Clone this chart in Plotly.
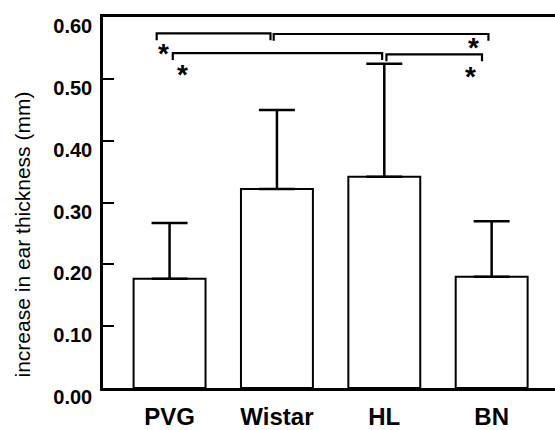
import plotly.graph_objects as go

# Ear swelling by rat strain: mean increase with upper SEM bars
strains = ["PVG", "Wistar", "HL", "BN"]
mean_increase = [0.177, 0.322, 0.342, 0.180]
sem = [0.090, 0.128, 0.183, 0.090]

y_ticks = [0.0, 0.1, 0.2, 0.3, 0.4, 0.5, 0.6]

# Significance brackets: (left end, right end, level) in axis units
brackets = [
    (-0.12, 0.94, 0.574),
    (0.97, 2.97, 0.573),
    (0.03, 1.98, 0.542),
    (2.02, 2.91, 0.540),
]
bracket_drop = 0.011

# Asterisks marking significant pairs
star_x = [-0.06, 0.12, 2.83, 2.80]
star_y = [0.545, 0.510, 0.555, 0.508]

fig = go.Figure()

fig.add_trace(go.Bar(
    x=list(range(len(strains))),
    y=mean_increase,
    width=0.67,
    marker=dict(color="white", line=dict(color="black", width=2)),
    error_y=dict(type="data", array=sem, arrayminus=[0] * len(sem),
                 symmetric=False, color="black", thickness=2.5, width=18),
    showlegend=False,
    hoverinfo="skip",
))

for x0, x1, lvl in brackets:
    fig.add_shape(
        type="path",
        path=f"M {x0},{lvl - bracket_drop} L {x0},{lvl} L {x1},{lvl} L {x1},{lvl - bracket_drop}",
        line=dict(color="black", width=2.2),
        xref="x", yref="y",
    )

annotations = [dict(
    text="increase in ear thickness (mm)",
    xref="paper", yref="paper", x=0, y=0.5,
    xanchor="center", yanchor="middle",
    xshift=-81, yshift=-32,
    textangle=-90, showarrow=False,
    font=dict(family="Liberation Sans", size=21, color="black"),
)]
# the asterisk glyph sits high in its line box, so nudge it down
for sx, sy in zip(star_x, star_y):
    annotations.append(dict(
        text="*", x=sx, y=sy, xref="x", yref="y",
        xanchor="center", yanchor="middle", yshift=-2,
        showarrow=False,
        font=dict(family="Liberation Sans", size=28, color="black", weight="bold"),
    ))

fig.update_layout(
    width=555, height=430,
    margin=dict(l=103, r=0, t=17, b=37),
    plot_bgcolor="white", paper_bgcolor="white",
    xaxis=dict(
        range=[-0.62, 3.59],
        tickmode="array",
        tickvals=list(range(len(strains))),
        ticktext=strains,
        showline=True, mirror=True, linecolor="black", linewidth=2.5,
        ticks="", showgrid=False, zeroline=False,
        tickfont=dict(family="Liberation Sans", size=24, color="black", weight="bold"),
        ticklabelstandoff=5,
    ),
    yaxis=dict(
        range=[0, 0.6005],
        tickmode="array",
        tickvals=y_ticks,
        ticktext=[f"{v:.2f}" for v in y_ticks],
        showline=True, linecolor="black", linewidth=2.5,
        ticks="inside", ticklen=11, tickwidth=2, tickcolor="black",
        showgrid=False, zeroline=False,
        tickfont=dict(family="Liberation Sans", size=20, color="black", weight="bold"),
        ticklabelshift=9,
        ticklabelstandoff=4,
        ticklabeloverflow="allow",
    ),
    annotations=annotations,
)

fig.write_html("out.html")
